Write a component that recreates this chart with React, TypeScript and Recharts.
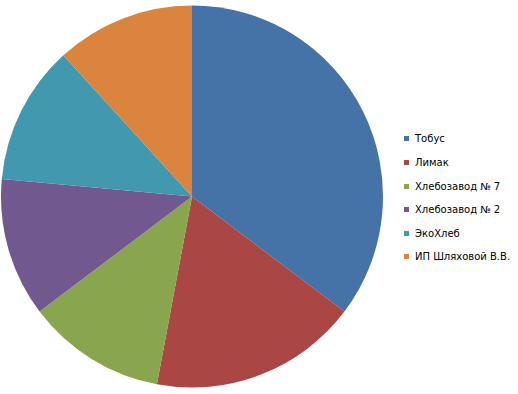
import React from 'react';
import { PieChart, Pie, Cell } from 'recharts';

const names = ['Тобус', 'Лимак', 'Хлебозавод № 7', 'Хлебозавод № 2', 'ЭкоХлеб', 'ИП Шляховой В.В.'];
const values = [30, 15, 10, 10, 10, 10];
const colors = ['#4572A7', '#AA4643', '#89A54E', '#71588F', '#4198AF', '#DB843D'];

const data = names.map((name, i) => ({ name, value: values[i] }));

export default function App() {
  return (
    <div style={{ position: 'absolute', left: 0, top: 0, width: 518, height: 394, background: '#fff' }}>
      <PieChart width={518} height={394} margin={{ top: 0, right: 0, bottom: 0, left: 0 }}>
        <Pie
          data={data}
          dataKey="value"
          nameKey="name"
          cx={192}
          cy={196.5}
          outerRadius={191}
          startAngle={90}
          endAngle={-270}
          stroke="none"
          isAnimationActive={false}
        >
          {data.map((d, i) => (
            <Cell key={d.name} fill={colors[i]} />
          ))}
        </Pie>
      </PieChart>
      <div
        style={{
          position: 'absolute',
          left: 404,
          top: 127.2,
          fontFamily: '"DejaVu Sans", sans-serif',
          fontSize: 10,
          color: '#000',
        }}
      >
        {names.map((n, i) => (
          <div key={n} style={{ height: 23.6, display: 'flex', alignItems: 'center', whiteSpace: 'nowrap' }}>
            <span style={{ display: 'inline-block', width: 5, height: 5, background: colors[i], marginRight: 6 }} />
            <span>{n}</span>
          </div>
        ))}
      </div>
    </div>
  );
}
